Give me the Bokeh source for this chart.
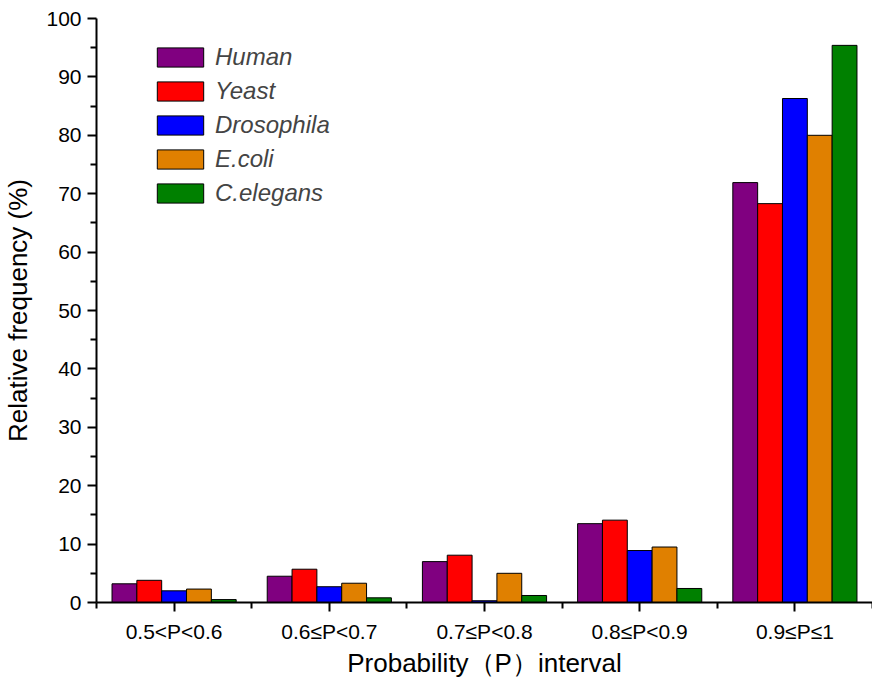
import numpy as np
from bokeh.embed import file_html
from bokeh.models import ColumnDataSource, FixedTicker, Legend, LegendItem
from bokeh.plotting import figure
from bokeh.resources import INLINE

# ---------------------------------------------------------------------------
# Data
# ---------------------------------------------------------------------------
intervals = ["0.5<P<0.6", "0.6\u2264P<0.7", "0.7\u2264P<0.8", "0.8\u2264P<0.9", "0.9\u2264P\u22641"]
species   = ["Human", "Yeast", "Drosophila", "E.coli", "C.elegans"]
colors    = ["#800080", "#ff0000", "#0000ff", "#e08000", "#008000"]

human      = [3.2, 4.5, 7.0, 13.5, 71.9]
yeast      = [3.8, 5.7, 8.1, 14.1, 68.3]
drosophila = [2.0, 2.7, 0.3, 8.9, 86.3]
ecoli      = [2.3, 3.3, 5.0, 9.5, 80.0]
celegans   = [0.5, 0.8, 1.2, 2.4, 95.4]

series = [human, yeast, drosophila, ecoli, celegans]

FONT = "Liberation Sans"

p = figure(
    width=872, height=680,
    x_range=(0, 5), y_range=(0, 100),
    output_backend="svg", toolbar_location=None,
    min_border_left=60, min_border_bottom=40, min_border_top=18, min_border_right=0,
    x_axis_label="Probability\uff08P\uff09interval",
    y_axis_label="Relative frequency (%)",
)
p.outline_line_color = None
p.grid.visible = False

bar_w = 0.16
centers = np.arange(len(intervals)) + 0.5
items = []
for i, (name, vals, col) in enumerate(zip(species, series, colors)):
    src = ColumnDataSource(dict(x=centers + (i - 2) * bar_w, top=vals))
    r = p.vbar(x="x", top="top", bottom=0, width=bar_w, source=src,
               fill_color=col, line_color="black", line_width=1)
    items.append(LegendItem(label=name, renderers=[r]))

legend = Legend(items=items)
legend.label_text_font = FONT
legend.label_text_font_style = "italic"
legend.label_text_font_size = "24px"
legend.label_height = 28
legend.glyph_width = 58
legend.glyph_height = 24
legend.spacing = 6
legend.label_standoff = 6
legend.border_line_color = None
legend.background_fill_alpha = 0
legend.margin = 0
legend.padding = 0
legend.location = (55, 395)
p.add_layout(legend)

p.xaxis.ticker = FixedTicker(ticks=list(centers), minor_ticks=[0, 1, 2, 3, 4, 5])
p.xaxis.major_label_overrides = {float(c): lab for c, lab in zip(centers, intervals)}
p.yaxis.ticker = FixedTicker(ticks=list(range(0, 101, 10)),
                             minor_ticks=list(range(5, 100, 10)))

for ax in (p.xaxis, p.yaxis):
    ax.axis_line_width = 2
    ax.major_tick_line_width = 2
    ax.minor_tick_line_width = 2
    ax.major_tick_out = 9
    ax.major_tick_in = 0
    ax.minor_tick_out = 6
    ax.minor_tick_in = 0
    ax.major_label_text_font = FONT
    ax.major_label_text_font_size = "21px"
    ax.major_label_text_color = "black"
    ax.axis_label_text_font = FONT
    ax.axis_label_text_font_size = "26px"
    ax.axis_label_text_font_style = "normal"
    ax.axis_label_text_color = "black"
p.xaxis.major_label_standoff = 8
p.xaxis.axis_label_standoff = 2
p.yaxis.major_label_standoff = 6
p.yaxis.axis_label_standoff = 10

open("out.html", "w").write(file_html(p, INLINE))
